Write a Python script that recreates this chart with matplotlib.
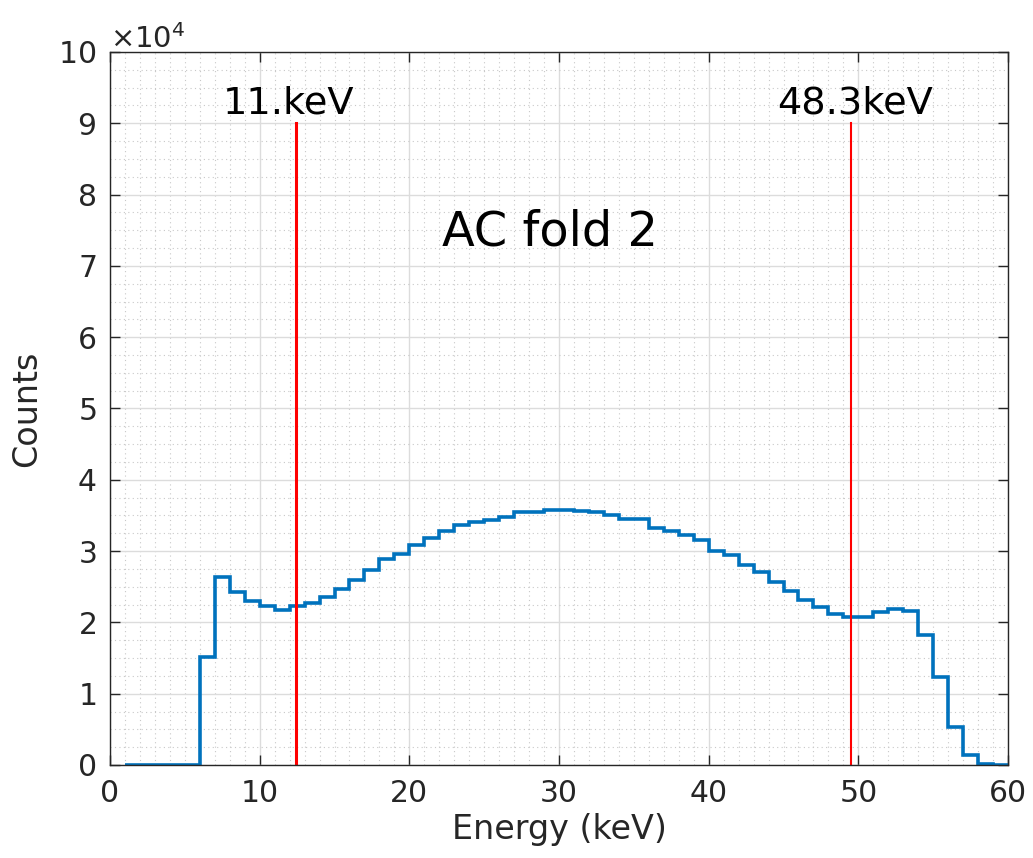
import numpy as np
import matplotlib
matplotlib.use("Agg")
import matplotlib.pyplot as plt
from matplotlib.ticker import ScalarFormatter, MultipleLocator

# Histogram data (1 keV bins from 1 to 60 keV)
bin_edges = list(range(1, 61))
counts = [
    0, 0, 0, 0, 0,
    15100, 26300, 24200, 23000, 22300, 21700, 22300, 22700, 23500, 24700,
    26000, 27400, 28900, 29600, 30900, 31900, 32800, 33600, 34100, 34400,
    34800, 35500, 35500, 35700, 35700, 35600, 35500, 35100, 34500, 34500,
    33300, 32800, 32200, 31500, 30000, 29500, 28000, 27000, 25700, 24400,
    23100, 22100, 21200, 20800, 20800, 21400, 21900, 21600, 18300, 12400,
    5300, 1400, 100, 0,
]

# Threshold markers
thresh_x = [12.4, 49.5]
thresh_labels = ["11.keV", "48.3keV"]
label_x = [11.9, 49.8]
title_text = "AC fold 2"

plt.rcParams['font.family'] = ['DejaVu Sans']
fig = plt.figure(figsize=(10.33, 8.58), dpi=100)
ax = fig.add_axes([0.1065, 0.1084, 0.8693, 0.831])

ax.stairs(counts, bin_edges, color='#0072BD', linewidth=2.6)

ax.plot([thresh_x[0], thresh_x[0]], [0, 90000], color='red', linewidth=2.2)
ax.plot([thresh_x[1], thresh_x[1]], [0, 90000], color='red', linewidth=1.5)

for x, lab in zip(label_x, thresh_labels):
    ax.text(x, 91400, lab, fontsize=27.5, ha='center', va='baseline', color='black')
ax.text(29.37, 72900, title_text, fontsize=34.5, ha='center', va='baseline', color='black')

ax.set_xlim(0, 60)
ax.set_ylim(0, 100000)
ax.xaxis.set_major_locator(MultipleLocator(10))
ax.xaxis.set_minor_locator(MultipleLocator(1))
ax.yaxis.set_major_locator(MultipleLocator(10000))
ax.yaxis.set_minor_locator(MultipleLocator(2500))

fmt = ScalarFormatter(useMathText=True)
fmt.set_scientific(True)
fmt.set_powerlimits((4, 4))
ax.yaxis.set_major_formatter(fmt)
ax.yaxis.get_offset_text().set_fontsize(21)
ax.yaxis.get_offset_text().set_color('#262626')

ax.grid(which='major', color='#dcdcdc', linewidth=1.0)
ax.grid(which='minor', color='#c8c8c8', linestyle=(0, (1, 3)), linewidth=0.8)
ax.set_axisbelow(True)

ax.tick_params(which='major', direction='in', length=7, width=1, top=True, right=True,
               labelsize=21.5, colors='#262626', pad=10)
ax.tick_params(which='minor', length=0, top=True, right=True)
for s in ax.spines.values():
    s.set_color('#262626')
    s.set_linewidth(1.0)

ax.set_xlabel("Energy (keV)", fontsize=24, color='#262626', labelpad=4)
ax.set_ylabel("Counts", fontsize=24, color='#262626')
ax.yaxis.set_label_coords(-0.074, 0.5)

fig.savefig("out.png", dpi=100)
